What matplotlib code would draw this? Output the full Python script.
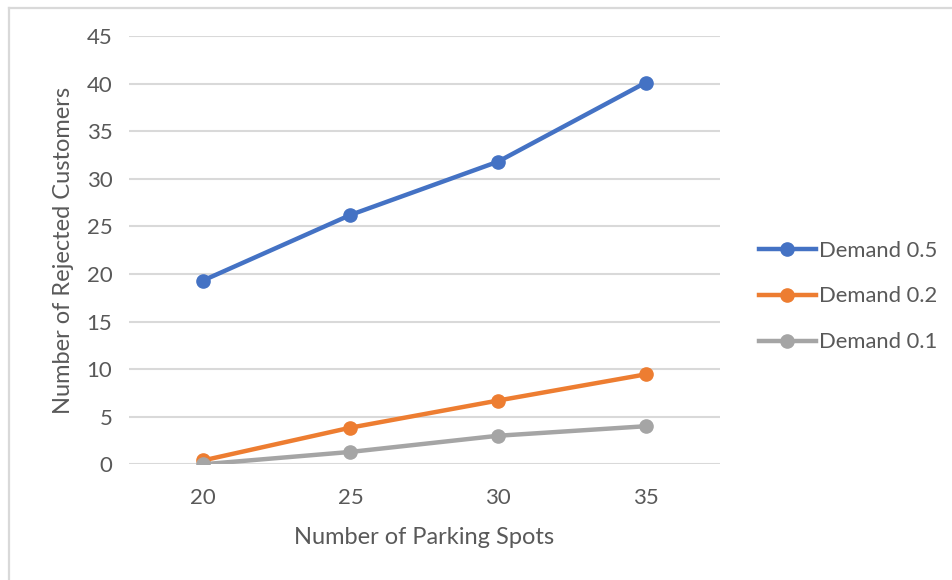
import matplotlib
matplotlib.use("Agg")
import matplotlib.pyplot as plt
from matplotlib.lines import Line2D

plt.rcParams['font.family'] = ['Lato', 'DejaVu Sans']

parking_spots = [20, 25, 30, 35]
demand_05 = [19.3, 26.2, 31.8, 40.1]
demand_02 = [0.4, 3.85, 6.7, 9.45]
demand_01 = [0.0, 1.3, 3.0, 4.0]
series_labels = ["Demand 0.5", "Demand 0.2", "Demand 0.1"]
series_colors = ["#4472C4", "#ED7D31", "#A5A5A5"]
y_ticks = list(range(0, 50, 5))

text_color = "#595959"
grid_color = "#D9D9D9"

fig = plt.figure(figsize=(9.52, 5.8), dpi=100)
ax = fig.add_axes([129 / 952, 1 - 464.3 / 580, (719.5 - 129) / 952, (464.3 - 36) / 580])

for vals, lab, col in zip([demand_05, demand_02, demand_01], series_labels, series_colors):
    ax.plot(parking_spots, vals, color=col, lw=3.2, marker='o', markersize=9.5,
            solid_capstyle='round', label=lab, zorder=3)

ax.set_xlim(17.5, 37.5)
ax.set_ylim(0, 45)
ax.set_xticks(parking_spots)
ax.set_yticks(y_ticks)
ax.yaxis.grid(True, color=grid_color, lw=1.5)
ax.set_axisbelow(True)
for s in ax.spines.values():
    s.set_visible(False)
ax.tick_params(length=0, labelsize=16, colors=text_color)
ax.tick_params(axis='x', pad=17)
ax.tick_params(axis='y', pad=12)
ax.set_xlabel("Number of Parking Spots", fontsize=17, color=text_color, labelpad=14)
ax.set_ylabel("Number of Rejected Customers", fontsize=17, color=text_color, labelpad=9)

handles = [Line2D([0], [0], color=c, lw=3.2, marker='o', markersize=9.5) for c in series_colors]
leg = fig.legend(handles, series_labels, loc='center left', bbox_to_anchor=(739 / 952, 1 - 296.5 / 580),
                 frameon=False, fontsize=15.8, labelcolor=text_color, handlelength=2.6,
                 handletextpad=0.15, labelspacing=1.18)

# outer chart border (left and top edges visible)
fig.add_artist(Line2D([9 / 952, 9 / 952], [0, 1 - 7.5 / 580], color=grid_color, lw=1.6,
                      transform=fig.transFigure))
fig.add_artist(Line2D([9 / 952, 1], [1 - 7.5 / 580, 1 - 7.5 / 580], color=grid_color, lw=1.6,
                      transform=fig.transFigure))

fig.savefig("out.png", dpi=100, facecolor="white")
